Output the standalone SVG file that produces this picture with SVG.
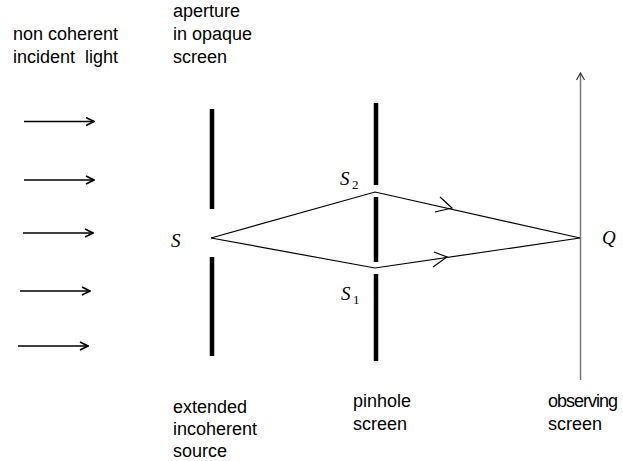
<svg xmlns="http://www.w3.org/2000/svg" width="623" height="461" viewBox="0 0 623 461">
<defs>
<style>
.lbl{font-family:"Liberation Sans",Arial,sans-serif;font-size:18px;fill:#000}
.math{font-family:"Liberation Serif","DejaVu Serif",serif;font-style:italic;font-size:19px;fill:#000}
.sub{font-family:"Liberation Serif","DejaVu Serif",serif;font-size:13px;fill:#000}
.inc{stroke:#000;stroke-width:1.5;fill:none}
.bar{stroke:#000;stroke-width:4.5;fill:none}
.ray{stroke:#000;stroke-width:1.2;fill:none}
.axis{stroke:#777;stroke-width:1.5;fill:none}
</style>
<marker id="head" viewBox="0 0 10 10" refX="9" refY="5" markerWidth="10" markerHeight="10" markerUnits="userSpaceOnUse" orient="auto">
<path d="M1,1 L9,5 L1,9" fill="none" stroke="#000" stroke-width="1.6"/>
</marker>
<marker id="axhead" viewBox="0 0 10 10" refX="9" refY="5" markerWidth="10" markerHeight="10" markerUnits="userSpaceOnUse" orient="auto">
<path d="M2,1 L9,5 L2,9" fill="none" stroke="#333" stroke-width="1.2"/>
</marker>
</defs>
<rect width="623" height="461" fill="#fff"/>

<g id="incident-light">
<text class="lbl" x="13" y="40">non coherent</text>
<text class="lbl" x="13" y="63" xml:space="preserve">incident  light</text>
</g>

<g id="aperture-screen">
<text class="lbl" x="173" y="17">aperture</text>
<text class="lbl" x="173" y="40">in opaque</text>
<text class="lbl" x="173" y="63">screen</text>
<line class="bar" x1="212" y1="109" x2="212" y2="209"/>
<line class="bar" x1="212" y1="257" x2="212" y2="356"/>
</g>

<g id="source">
<text class="math" x="171" y="247">S</text>
<text class="lbl" x="173" y="413">extended</text>
<text class="lbl" x="173" y="435">incoherent</text>
<text class="lbl" x="173" y="457">source</text>
</g>

<g id="pinhole-screen">
<line class="bar" x1="376" y1="103" x2="376" y2="185"/>
<line class="bar" x1="376" y1="197" x2="376" y2="262"/>
<line class="bar" x1="376" y1="274" x2="376" y2="361"/>
<text class="lbl" x="353" y="407">pinhole</text>
<text class="lbl" x="353" y="430">screen</text>
</g>

<g id="S2">
<text class="math" x="340" y="185">S</text>
<text class="sub" x="352" y="189">2</text>
</g>

<g id="S1">
<text class="math" x="341" y="300">S</text>
<text class="sub" x="353" y="304">1</text>
</g>

<g id="observing-screen">
<line class="axis" x1="580.5" y1="380" x2="580.5" y2="73" marker-end="url(#axhead)"/>
<text class="lbl" x="548" y="407" textLength="70">observing</text>
<text class="lbl" x="548" y="430">screen</text>
</g>

<g id="Q">
<text class="math" x="602" y="244">Q</text>
</g>

<g id="connectors">
<line class="inc" x1="24" y1="121.5" x2="94" y2="121.5" marker-end="url(#head)"/>
<line class="inc" x1="24" y1="180" x2="94" y2="180" marker-end="url(#head)"/>
<line class="inc" x1="23" y1="233" x2="93" y2="233" marker-end="url(#head)"/>
<line class="inc" x1="20" y1="291" x2="90" y2="291" marker-end="url(#head)"/>
<line class="inc" x1="18" y1="346" x2="88" y2="346" marker-end="url(#head)"/>
<polyline class="ray" points="211,238 375,192 580,238"/>
<polyline class="ray" points="211,238 375,268 580,238"/>
<path class="ray" d="M440,197 L452,208 L435,212"/>
<path class="ray" d="M434,252 L447,257 L433,267"/>
</g>
</svg>
